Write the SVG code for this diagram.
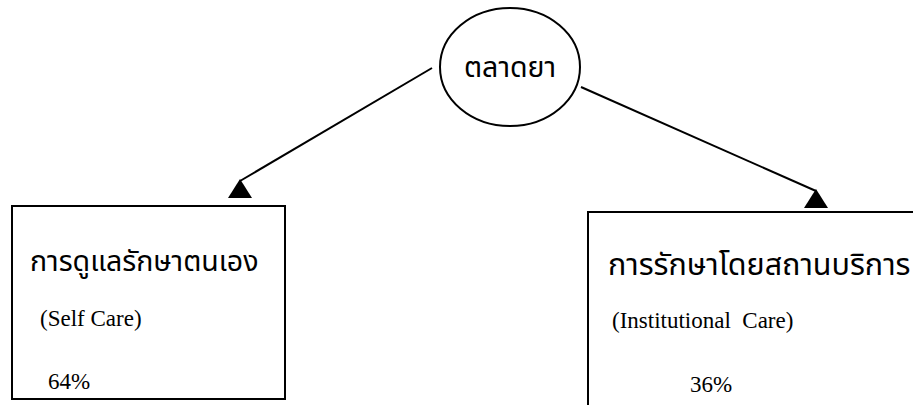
<svg xmlns="http://www.w3.org/2000/svg" width="913" height="405" viewBox="0 0 913 405">
<style>
.shape{fill:#fff;stroke:#000;stroke-width:2}
.conn{stroke:#000;stroke-width:2;fill:none}
.th{font-family:"Noto Sans Thai","Noto Serif Thai","Norasi","Garuda","Loma","Liberation Serif",serif;font-size:28.5px;fill:#000}
.en{font-family:"Liberation Serif","Times New Roman",serif;font-size:23px;fill:#000}
</style>
<defs>
<marker id="ah" viewBox="0 0 24 19" refX="12" refY="2" markerWidth="24" markerHeight="19" markerUnits="userSpaceOnUse" orient="0">
<path d="M12,0 L24,19 L0,19 z" fill="#000"/>
</marker>
</defs>
<rect width="913" height="405" fill="#fff"/>
<g id="connectors">
<line class="conn" x1="432" y1="68" x2="240" y2="181" marker-end="url(#ah)"/>
<line class="conn" x1="581" y1="87" x2="816" y2="191" marker-end="url(#ah)"/>
</g>
<g id="market">
<ellipse class="shape" cx="510" cy="67" rx="70" ry="59"/>
<text class="th" x="510" y="77" text-anchor="middle">ตลาดยา</text>
</g>
<g id="selfcare">
<rect class="shape" x="12" y="206" width="273" height="193"/>
<text class="th" x="30" y="271">การดูแลรักษาตนเอง</text>
<text class="en" x="40" y="326">(Self Care)</text>
<text class="en" x="48" y="389">64%</text>
</g>
<g id="institutional">
<rect class="shape" x="588" y="212" width="340" height="210"/>
<text class="th" x="608" y="275" style="font-size:30.5px">การรักษาโดยสถานบริการ</text>
<text class="en" x="612" y="328">(Institutional&#160; Care)</text>
<text class="en" x="690" y="392">36%</text>
</g>
</svg>
